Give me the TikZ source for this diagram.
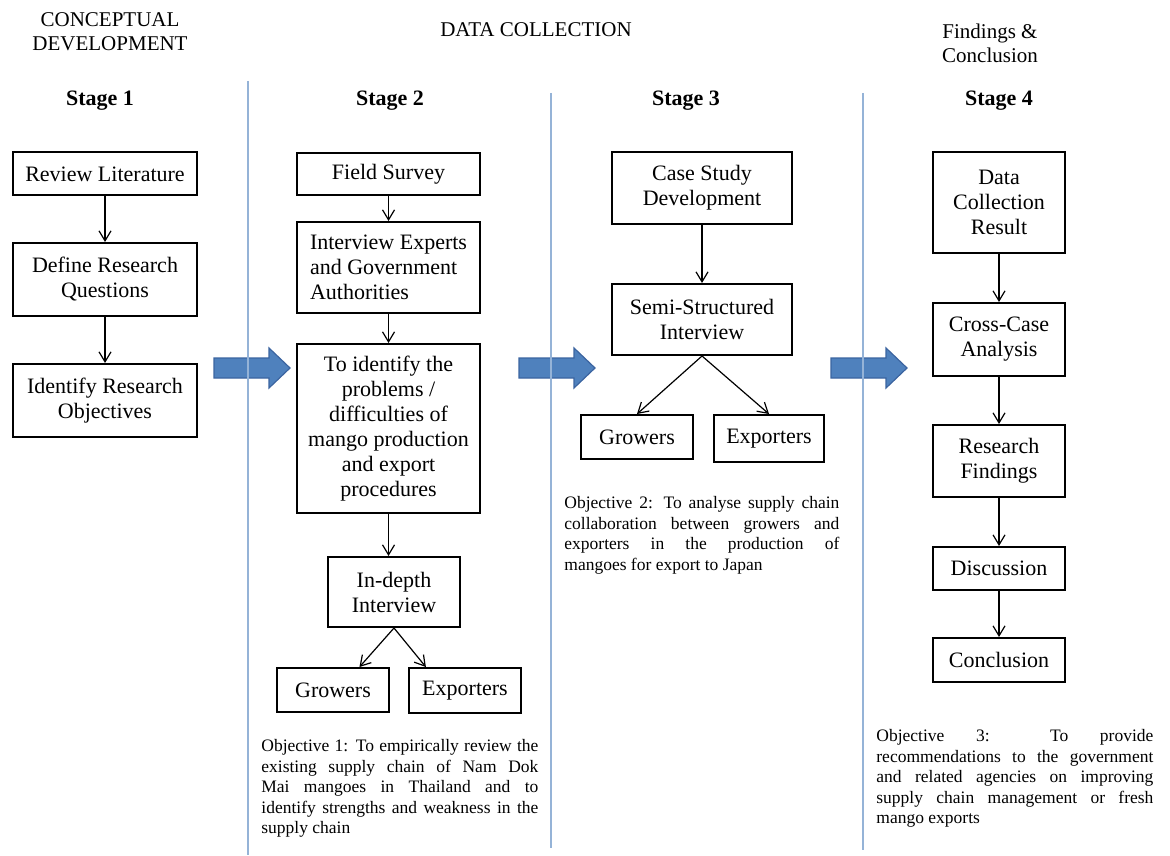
\documentclass[tikz,border=0pt]{standalone}
\usepackage{fontspec}
\setmainfont{Liberation Serif}
\usepackage{tikz}
\usetikzlibrary{arrows.meta}
\definecolor{arrowblue}{HTML}{4F81BD}
\definecolor{arrowedge}{HTML}{3B64A0}
\definecolor{sepblue}{HTML}{95B3D7}
\hbadness=10000
\begin{document}
\begin{tikzpicture}[x=0.5pt,y=-0.5pt,>={Straight Barb[length=5pt,width=6pt]},
                    every edge/.style={draw,->,line width=0.6pt},
                    box/.style={draw,line width=1pt,align=center,inner sep=2pt,
                                font=\fontsize{11}{12.5}\selectfont},
                    head/.style={align=center,font=\fontsize{10.5}{12}\selectfont},
                    stage/.style={font=\fontsize{11}{12.5}\selectfont\bfseries},
                    objective/.style={anchor=north west,inner sep=0pt,align=justify,
                                      font=\fontsize{8.75}{10.25}\selectfont}]
\useasboundingbox (0,0) rectangle (1170,855);

% big arrows between the stages
\foreach \xs in {214,519,831}
  \draw[fill=arrowblue,draw=arrowedge,line width=0.6pt]
    (\xs,358) -- ++(55,0) -- ++(0,-10) -- ++(21,20) -- ++(-21,20)
    -- ++(0,-10) -- ++(-55,0) -- cycle;

% separators
\draw[sepblue,line width=0.8pt] (248,81) -- (248,855);
\draw[sepblue,line width=0.8pt] (551,93) -- (551,848);
\draw[sepblue,line width=0.8pt] (863,93) -- (863,850);

% headings
\node[head] (cd) at (110,32) {CONCEPTUAL\\DEVELOPMENT};
\node[head] (dc) at (536,30) {DATA COLLECTION};
\node[head] (fc) at (990,43) {Findings \&\\Conclusion};

\node[stage] (s1) at (100,101) {Stage 1};
\node[stage] (s2) at (390,101) {Stage 2};
\node[stage] (s3) at (686,101) {Stage 3};
\node[stage] (s4) at (999,101) {Stage 4};

% stage 1
\node[box,minimum width=92pt,minimum height=21.5pt] (rl) at (105,174) {Review Literature};
\node[box,minimum width=92pt,minimum height=36.5pt] (drq) at (105,279.5) {Define Research\\Questions};
\node[box,minimum width=92pt,minimum height=36.5pt] (iro) at (105,400.5) {Identify Research\\Objectives};

\path
  (rl) edge (drq)
  (drq) edge (iro);

% stage 2
\node[box,minimum width=91.5pt,minimum height=21pt] (fs) at (388.5,174) {Field Survey};
\node[box,align=left,minimum width=91.5pt,minimum height=45.5pt] (ieg) at (388.5,267.5) {Interview Experts\\and Government\\Authorities};
\node[box,minimum width=91.5pt,minimum height=84.5pt] (ti) at (388.5,428.5) {To identify the\\problems /\\difficulties of\\mango production\\and export\\procedures};
\node[box,minimum width=66pt,minimum height=35pt] (idi) at (394,592) {In-depth\\Interview};
\node[box,minimum width=56pt,minimum height=22pt] (gr2) at (333,690) {Growers};
\node[box,minimum width=56pt,minimum height=22.5pt] (ex2) at (465,690.5) {Exporters};

\path
  (fs) edge (ieg)
  (ieg) edge (ti)
  (ti.south) edge (ti.south |- idi.north)
  (idi.south) edge (gr2.41)
              edge (ex2.149);

\node[objective,text width=138.5pt] (ob1) at (261,739)
  {Objective 1: To empirically review the\linebreak existing supply chain of Nam Dok\linebreak
   Mai mangoes in Thailand and to\linebreak identify strengths and weakness in the\linebreak supply chain};

% stage 3
\node[box,minimum width=90pt,minimum height=36pt] (csd) at (702,188) {Case Study\\Development};
\node[box,minimum width=90pt,minimum height=35.5pt] (ssi) at (702,319.5) {Semi-Structured\\Interview};
\node[box,minimum width=56pt,minimum height=22pt] (gr3) at (637,437) {Growers};
\node[box,minimum width=55pt,minimum height=23.5pt] (ex3) at (769,438.5) {Exporters};

\path
  (csd) edge (ssi)
  (ssi.south) edge (gr3.north)
              edge (ex3.north);

\node[objective,text width=137.5pt] (ob2) at (564,496)
  {Objective 2: To analyse supply chain\linebreak collaboration between growers and\linebreak
   exporters in the production of\linebreak mangoes for export to Japan};

% stage 4
\node[box,minimum width=66pt,minimum height=50.5pt] (dcr) at (999,202.5) {Data\\Collection\\Result};
\node[box,minimum width=66pt,minimum height=36.5pt] (cca) at (999,339.5) {Cross-Case\\Analysis};
\node[box,minimum width=66pt,minimum height=36pt] (rf) at (999,461) {Research\\Findings};
\node[box,minimum width=66pt,minimum height=21.5pt] (dis) at (999,568.5) {Discussion};
\node[box,minimum width=66pt,minimum height=22pt] (con) at (999,660) {Conclusion};

\path
  (dcr) edge (cca)
  (cca) edge (rf)
  (rf) edge (dis)
  (dis) edge (con);

\node[objective,text width=138.5pt] (ob3) at (876,729)
  {Objective 3: To provide\linebreak recommendations to the government\linebreak
   and related agencies on improving\linebreak supply chain management or fresh\linebreak mango exports};
\end{tikzpicture}
\end{document}
